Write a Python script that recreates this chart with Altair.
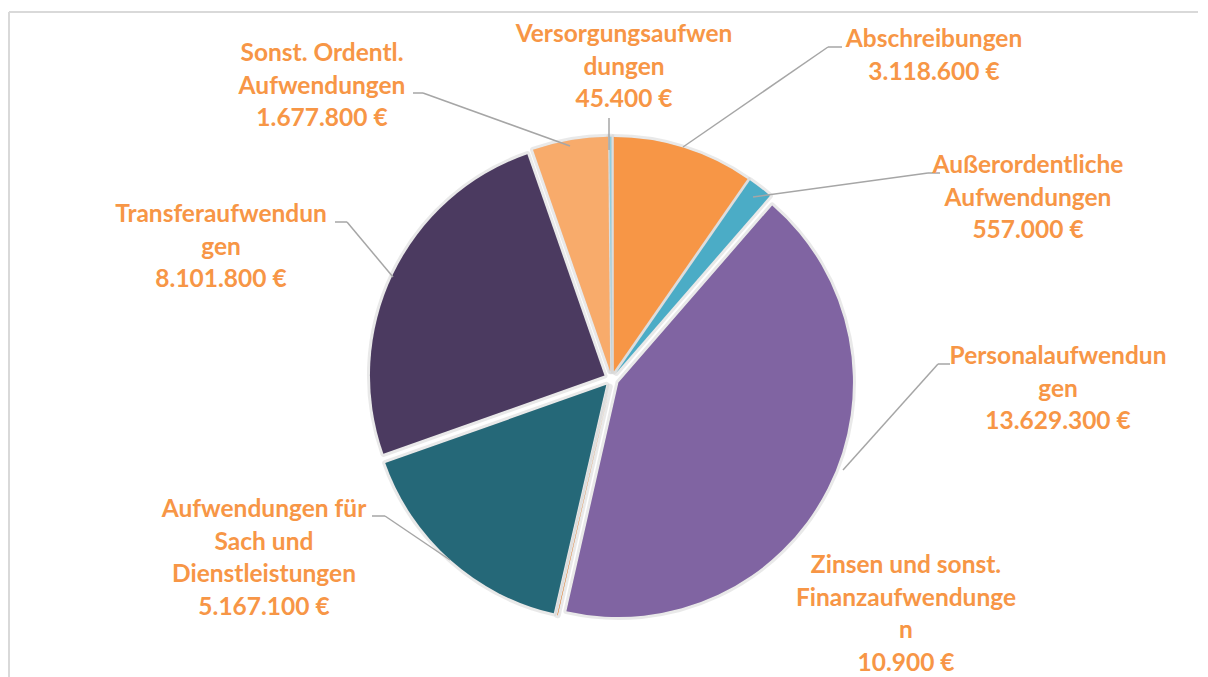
import altair as alt
import pandas as pd

# ---- data ----
categories = [
    "Abschreibungen",
    "Außerordentliche Aufwendungen",
    "Personalaufwendungen",
    "Zinsen und sonst. Finanzaufwendungen",
    "Aufwendungen für Sach und Dienstleistungen",
    "Transferaufwendungen",
    "Sonst. Ordentl. Aufwendungen",
    "Versorgungsaufwendungen",
]
values = [3118600, 557000, 13629300, 10900, 5167100, 8101800, 1677800, 45400]
colors = ["#F79646", "#4BACC6", "#8064A2", "#E46C0A", "#256878", "#4B3A60", "#F8AB6B", "#92CDDC"]
name_lines = [
    ["Abschreibungen"],
    ["Außerordentliche", "Aufwendungen"],
    ["Personalaufwendun", "gen"],
    ["Zinsen und sonst.", "Finanzaufwendunge", "n"],
    ["Aufwendungen für", "Sach und", "Dienstleistungen"],
    ["Transferaufwendun", "gen"],
    ["Sonst. Ordentl.", "Aufwendungen"],
    ["Versorgungsaufwen", "dungen"],
]

# ---- layout (page pixels) ----
OX, OY = 8, 8
CX, CY = 611.5 - OX, 379 - OY
R = 234.5
E = 7.8
label_x = [934, 1028, 1058, 906, 264, 221, 322, 624]
label_y0 = [47, 173, 364, 573, 517, 222, 61, 42]
LINE_STEP = 32.6
leaders = [
    [(842, 47), (828, 47), (683, 147)],
    [(940, 173), (928, 173), (753, 197)],
    [(950, 364), (938, 364), (843, 470)],
    [(372, 516), (385, 516), (450, 560)],
    [(335, 222), (347, 222), (393, 277)],
    [(413, 93), (423, 93), (570, 146)],
    [(609, 118), (609, 150)],
]
LABEL_COLOR = "#F79646"


def euro(v):
    return f"{v:,}".replace(",", ".") + " €"


pie_df = pd.DataFrame({"cat": categories, "value": values, "order": list(range(len(values)))})

base = (
    alt.Chart(pie_df)
    .transform_window(cum="sum(value)", sort=[alt.SortField("order")], frame=[None, 0])
    .transform_joinaggregate(total="sum(value)")
    .transform_calculate(
        t1="datum.cum / datum.total * 2 * PI",
        t0="(datum.cum - datum.value) / datum.total * 2 * PI",
    )
    .transform_calculate(mid="(datum.t0 + datum.t1) / 2")
    .transform_calculate(
        cx=f"{CX} + {E} * sin(datum.mid)",
        cy=f"{CY} - {E} * cos(datum.mid)",
    )
)

enc = dict(
    x=alt.X("cx:Q", scale=None, axis=None),
    y=alt.Y("cy:Q", scale=None, axis=None),
    theta=alt.Theta("t0:Q", scale=None),
    theta2=alt.Theta2("t1:Q"),
)

shadow = base.mark_arc(
    radius=R, fill="#cfcfcf", stroke="#cfcfcf", strokeWidth=6, strokeOpacity=0.45,
    fillOpacity=0.6, strokeJoin="round"
).encode(**enc)

pie = base.mark_arc(radius=R, strokeWidth=0).encode(
    **enc,
    color=alt.Color("cat:N", scale=alt.Scale(domain=categories, range=colors), legend=None),
)

# labels
rows = []
for i, lines in enumerate(name_lines):
    all_lines = lines + [euro(values[i])]
    for j, t in enumerate(all_lines):
        rows.append({"x": label_x[i] - OX, "y": label_y0[i] + j * LINE_STEP - OY, "text": t})
text_df = pd.DataFrame(rows)
labels = alt.Chart(text_df).mark_text(
    font="Lato", fontSize=24.5, fontWeight="bold", color=LABEL_COLOR,
    align="center", baseline="alphabetic"
).encode(
    x=alt.X("x:Q", scale=None, axis=None),
    y=alt.Y("y:Q", scale=None, axis=None),
    text="text:N",
)

# leader lines
seg_rows = []
for pts in leaders:
    for a, b in zip(pts[:-1], pts[1:]):
        seg_rows.append({"x": a[0] - OX, "y": a[1] - OY, "x2": b[0] - OX, "y2": b[1] - OY})
seg_df = pd.DataFrame(seg_rows)
leader = alt.Chart(seg_df).mark_rule(color="#a6a6a6", strokeWidth=1.5).encode(
    x=alt.X("x:Q", scale=None, axis=None),
    y=alt.Y("y:Q", scale=None, axis=None),
    x2="x2:Q",
    y2="y2:Q",
)

# chart frame (top and left border)
frame_df = pd.DataFrame({
    "x": [9 - OX, 9 - OX], "y": [12 - OY, 12 - OY],
    "x2": [1208 - OX, 9 - OX], "y2": [12 - OY, 677 - OY],
})
frame = alt.Chart(frame_df).mark_rule(color="#d9d9d9", strokeWidth=2).encode(
    x=alt.X("x:Q", scale=None, axis=None),
    y=alt.Y("y:Q", scale=None, axis=None),
    x2="x2:Q",
    y2="y2:Q",
)

chart = (
    alt.layer(frame, shadow, pie, leader, labels)
    .properties(width=1190, height=669, padding=0, autosize="none", background="white")
    .configure_view(stroke=None)
)

chart.save("out.html", embed_options={"renderer": "svg", "actions": False})
